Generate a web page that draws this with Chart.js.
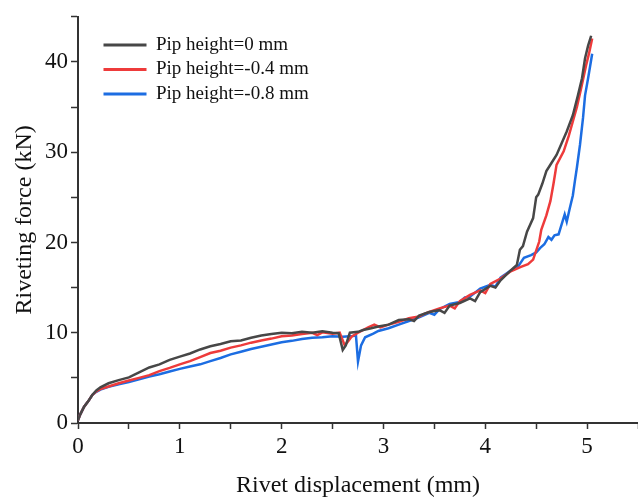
<!DOCTYPE html>
<html>
<head>
<meta charset="utf-8">
<script src="https://cdn.jsdelivr.net/npm/chart.js@4"></script>
<style>
  body { margin: 0; overflow: hidden; background: #fff; }
</style>
</head>
<body>
<canvas id="chart" width="642" height="497"></canvas>
<script>
// curves (x: mm, y: kN)
const xPip0 = [0, 0.02, 0.06, 0.1, 0.14, 0.18, 0.22, 0.3, 0.4, 0.5, 0.6, 0.7, 0.8, 0.9, 1.0, 1.1, 1.2, 1.3, 1.4, 1.5, 1.6, 1.7, 1.8, 1.9, 2.0, 2.1, 2.2, 2.3, 2.4, 2.5, 2.56, 2.6, 2.63, 2.67, 2.75, 2.8, 2.88, 2.95, 3.05, 3.15, 3.25, 3.3, 3.35, 3.45, 3.55, 3.6, 3.65, 3.75, 3.85, 3.9, 3.95, 4.05, 4.1, 4.15, 4.25, 4.31, 4.34, 4.37, 4.41, 4.47, 4.5, 4.52, 4.56, 4.6, 4.65, 4.7, 4.75, 4.8, 4.86, 4.91, 4.95, 4.98, 5.01, 5.04];
const yPip0 = [0.3, 0.9, 1.8, 2.4, 3.1, 3.6, 3.95, 4.4, 4.75, 5.05, 5.6, 6.15, 6.5, 7.0, 7.35, 7.7, 8.15, 8.5, 8.75, 9.05, 9.15, 9.45, 9.7, 9.85, 10.0, 9.95, 10.1, 10.0, 10.15, 10.0, 9.95, 8.1, 8.6, 10.0, 10.1, 10.3, 10.5, 10.7, 10.9, 11.4, 11.5, 11.3, 11.9, 12.3, 12.5, 12.2, 13.0, 13.3, 13.8, 13.5, 14.5, 15.2, 15.0, 15.8, 16.9, 17.5, 19.2, 19.6, 21.2, 22.7, 25.0, 25.3, 26.5, 27.9, 28.8, 29.7, 31.0, 32.3, 34.1, 36.3, 38.2, 40.4, 41.8, 42.9];

const xPip04 = [0, 0.02, 0.06, 0.1, 0.14, 0.18, 0.22, 0.3, 0.4, 0.5, 0.6, 0.7, 0.8, 0.9, 1.0, 1.1, 1.2, 1.3, 1.4, 1.5, 1.6, 1.7, 1.8, 1.9, 2.0, 2.1, 2.2, 2.3, 2.35, 2.4, 2.5, 2.57, 2.62, 2.65, 2.69, 2.75, 2.85, 2.91, 2.97, 3.05, 3.15, 3.25, 3.35, 3.4, 3.45, 3.55, 3.65, 3.7, 3.75, 3.85, 3.95, 4.0, 4.05, 4.15, 4.25, 4.35, 4.42, 4.47, 4.53, 4.55, 4.6, 4.64, 4.67, 4.7, 4.77, 4.82, 4.86, 4.9, 4.94, 4.99, 5.02, 5.05];
const yPip04 = [0.3, 0.9, 1.8, 2.4, 3.1, 3.5, 3.75, 4.05, 4.4, 4.7, 5.0, 5.3, 5.75, 6.1, 6.5, 6.85, 7.3, 7.75, 8.0, 8.35, 8.6, 8.9, 9.15, 9.35, 9.6, 9.7, 9.85, 10.0, 9.75, 10.05, 9.9, 10.0, 8.6, 9.0, 9.6, 10.0, 10.6, 10.9, 10.6, 10.9, 11.2, 11.6, 11.8, 12.1, 12.3, 12.7, 13.0, 12.7, 13.5, 14.2, 14.7, 14.4, 15.4, 16.0, 16.8, 17.3, 17.6, 18.1, 20.1, 21.4, 23.0, 24.6, 26.5, 28.6, 30.1, 31.8, 33.4, 35.0, 37.0, 39.6, 41.0, 42.6];

const xPip08 = [0, 0.02, 0.06, 0.1, 0.14, 0.18, 0.22, 0.3, 0.4, 0.5, 0.6, 0.7, 0.8, 0.9, 1.0, 1.1, 1.2, 1.3, 1.4, 1.5, 1.6, 1.7, 1.8, 1.9, 2.0, 2.1, 2.2, 2.3, 2.4, 2.5, 2.6, 2.7, 2.73, 2.75, 2.78, 2.82, 2.9, 2.95, 3.05, 3.15, 3.25, 3.35, 3.45, 3.5, 3.55, 3.65, 3.75, 3.8, 3.85, 3.95, 4.05, 4.1, 4.15, 4.25, 4.32, 4.38, 4.45, 4.5, 4.54, 4.58, 4.62, 4.65, 4.68, 4.72, 4.75, 4.78, 4.8, 4.83, 4.86, 4.88, 4.9, 4.93, 4.96, 4.98, 5.01, 5.05];
const yPip08 = [0.3, 0.9, 1.8, 2.4, 3.1, 3.45, 3.7, 4.0, 4.3, 4.55, 4.85, 5.15, 5.4, 5.7, 6.0, 6.25, 6.5, 6.85, 7.2, 7.6, 7.9, 8.2, 8.45, 8.7, 8.95, 9.1, 9.3, 9.45, 9.5, 9.6, 9.55, 9.65, 9.7, 6.8, 8.6, 9.5, 9.9, 10.2, 10.5, 10.9, 11.3, 11.7, 12.2, 12.0, 12.6, 13.2, 13.4, 13.9, 14.0, 14.9, 15.3, 15.1, 16.1, 16.9, 17.3, 18.3, 18.6, 18.9, 19.4, 19.8, 20.6, 20.3, 20.8, 20.9, 22.0, 23.1, 22.3, 23.8, 25.2, 26.8, 28.3, 30.8, 33.8, 36.3, 38.2, 40.9];

const seriesNames = ['Pip height=0 mm', 'Pip height=-0.4 mm', 'Pip height=-0.8 mm'];
const seriesColors = ['#474747', '#ee3b3b', '#1c6de2'];

const toPoints = (xs, ys) => xs.map((x, i) => ({ x: x, y: ys[i] }));
const serif = 'Liberation Serif, Times New Roman, serif';

// nudge the in-plot legend away from the axes
const legendOffset = {
    id: 'legendOffset',
    afterLayout(chart) {
        const lg = chart.legend;
        lg.left += 20; lg.right += 20;
        lg.top += 30; lg.bottom += 30;
    }
};

const ctx = document.getElementById('chart').getContext('2d');
new Chart(ctx, {
    type: 'scatter',
    data: {
        datasets: [
            { data: toPoints(xPip0, yPip0) },
            { data: toPoints(xPip04, yPip04) },
            { data: toPoints(xPip08, yPip08) }
        ].map((d, i) => ({
            ...d,
            label: seriesNames[i],
            borderColor: seriesColors[i],
            backgroundColor: seriesColors[i],
            showLine: true,
            borderWidth: 2.5,
            pointRadius: 0,
            tension: 0
        }))
    },
    options: {
        responsive: false,
        animation: false,
        layout: { padding: { top: 14, right: 0, left: 0, bottom: 0 } },
        plugins: {
            tooltip: { enabled: false },
            legend: {
                position: 'chartArea',
                align: 'start',
                labels: {
                    boxWidth: 43,
                    boxHeight: 3,
                    padding: 5.5,
                    color: '#111',
                    font: { family: serif, size: 19 },
                    generateLabels: chart => Chart.defaults.plugins.legend.labels.generateLabels(chart)
                        .map(l => ({ ...l, lineWidth: 0 }))
                }
            }
        },
        scales: {
            x: {
                type: 'linear',
                min: 0,
                max: 5.5,
                afterFit: s => { s.height = 74; },
                border: { color: '#333', width: 2 },
                grid: { drawOnChartArea: false, tickLength: 6, tickWidth: 1.5, tickColor: '#333' },
                ticks: {
                    stepSize: 0.5,
                    padding: 4,
                    color: '#111',
                    font: { family: serif, size: 23 },
                    callback: v => Number.isInteger(v) ? v : ''
                },
                title: {
                    display: true,
                    text: 'Rivet displacement (mm)',
                    color: '#111',
                    font: { family: serif, size: 24 },
                    padding: { top: 0, bottom: -3 }
                }
            },
            y: {
                min: 0,
                max: 45,
                afterFit: s => { s.width = 78; },
                border: { color: '#333', width: 2 },
                grid: { drawOnChartArea: false, tickLength: 7, tickWidth: 1.5, tickColor: '#333' },
                ticks: {
                    stepSize: 5,
                    padding: 3,
                    color: '#111',
                    font: { family: serif, size: 23 },
                    callback: v => v % 10 === 0 ? v : ''
                },
                title: {
                    display: true,
                    text: 'Riveting force (kN)',
                    color: '#111',
                    font: { family: serif, size: 24 },
                    padding: { top: 10, bottom: 0 }
                }
            }
        }
    },
    plugins: [legendOffset]
});
</script>
</body>
</html>
